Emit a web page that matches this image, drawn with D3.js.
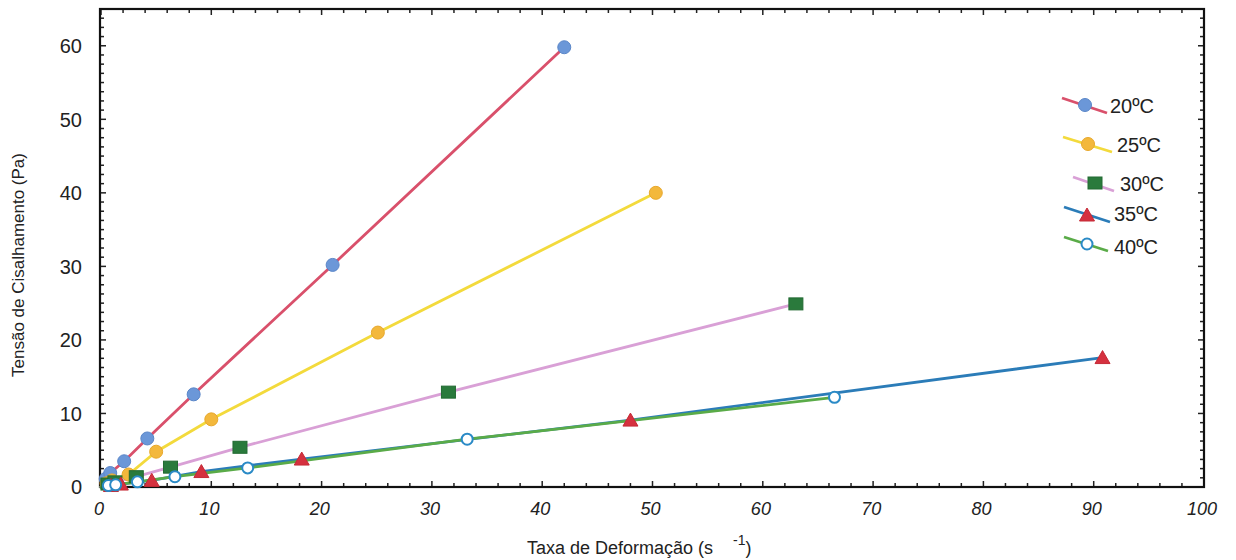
<!DOCTYPE html>
<html>
<head>
<meta charset="utf-8">
<script src="https://cdn.jsdelivr.net/npm/d3@7"></script>
<style>
  html, body { margin: 0; padding: 0; background: #fff; }
  svg { display: block; font-family: "Liberation Sans", Arial, sans-serif; }
</style>
</head>
<body>
<svg id="chart" width="1236" height="560"></svg>
<script>
// Shear rate (s^-1) and shear stress (Pa) for each temperature
const seriesNames = ["20ºC", "25ºC", "30ºC", "35ºC", "40ºC"];
const rate20 = [0.42, 0.84, 2.1, 4.2, 8.4, 21.0, 42.0];
const stress20 = [1.1, 1.9, 3.5, 6.6, 12.6, 30.2, 59.8];
const rate25 = [0.5, 1.0, 2.5, 5.0, 10.0, 25.1, 50.3];
const stress25 = [0.5, 0.9, 1.7, 4.8, 9.2, 21.0, 40.0];
const rate30 = [0.63, 1.26, 3.2, 6.3, 12.6, 31.5, 63.0];
const stress30 = [0.4, 0.7, 1.4, 2.7, 5.4, 12.9, 24.9];
const rate35 = [0.9, 1.8, 4.6, 9.1, 18.2, 48.0, 90.8];
const stress35 = [0.2, 0.4, 0.9, 2.1, 3.8, 9.1, 17.6];
const rate40 = [0.67, 1.33, 3.3, 6.7, 13.3, 33.2, 66.5];
const stress40 = [0.2, 0.3, 0.7, 1.4, 2.6, 6.5, 12.2];

const xTicks = [0, 10, 20, 30, 40, 50, 60, 70, 80, 90, 100];
const yTicks = [0, 10, 20, 30, 40, 50, 60];

const svg = d3.select("#chart");
const frameL = 100, frameR = 1204, frameT = 9, frameB = 487;

const x = d3.scaleLinear().domain([0, 100]).range([frameL + 1, frameR]);
const y = d3.scaleLinear().domain([0, 65]).range([frameB, frameT]);

// series styling
const styles = [
  { line: "#d9506b", fill: "#6b97d8", stroke: "#5a86c8", shape: "circle" },
  { line: "#f3da3c", fill: "#f3b83c", stroke: "#e8a82c", shape: "circle" },
  { line: "#d9a0d6", fill: "#2a7a3c", stroke: "#226a32", shape: "square" },
  { line: "#2b7cb8", fill: "#d5313f", stroke: "#c52a36", shape: "triangle" },
  { line: "#5aab48", fill: "#ffffff", stroke: "#2a8ac6", shape: "open" }
];

const series = [
  { rate: rate20, stress: stress20 },
  { rate: rate25, stress: stress25 },
  { rate: rate30, stress: stress30 },
  { rate: rate35, stress: stress35 },
  { rate: rate40, stress: stress40 }
].map((s, i) => ({ name: seriesNames[i], style: styles[i],
  points: s.rate.map((r, j) => ({ x: r, y: s.stress[j] })) }));

// minor / major ticks, pointing inward on all four sides
const ticksG = svg.append("g").attr("stroke", "#222").attr("stroke-width", 1.5);
d3.range(0, 100.01, 2).forEach(v => {
  const len = v % 10 === 0 ? 6 : 4;
  ticksG.append("line").attr("x1", x(v)).attr("x2", x(v)).attr("y1", frameB).attr("y2", frameB - len);
  ticksG.append("line").attr("x1", x(v)).attr("x2", x(v)).attr("y1", frameT).attr("y2", frameT + len);
});
d3.range(0, 65.01, 1.25).forEach(v => {
  const len = v % 10 === 0 ? 6 : 4;
  ticksG.append("line").attr("x1", frameL).attr("x2", frameL + len).attr("y1", y(v)).attr("y2", y(v));
  ticksG.append("line").attr("x1", frameR).attr("x2", frameR - len).attr("y1", y(v)).attr("y2", y(v));
});

// frame
svg.append("rect").attr("x", frameL).attr("y", frameT).attr("width", frameR - frameL).attr("height", frameB - frameT)
  .attr("fill", "none").attr("stroke", "#111").attr("stroke-width", 2.2);

// tick labels
svg.append("g").selectAll("text").data(yTicks).join("text")
  .attr("x", 82).attr("y", d => y(d)).attr("dy", "0.36em")
  .attr("text-anchor", "end").attr("font-size", 20).attr("fill", "#222")
  .text(d => d);
svg.append("g").selectAll("text").data(xTicks).join("text")
  .attr("x", d => x(d) - 2).attr("y", 515)
  .attr("text-anchor", "middle").attr("font-size", 19).attr("font-style", "italic")
  .attr("fill", "#222").attr("transform", d => `translate(${x(d)},0) scale(0.95,1) translate(${-x(d)},0)`)
  .text(d => d);

// axis titles
svg.append("text")
  .attr("transform", "translate(24,265) rotate(-90)")
  .attr("text-anchor", "middle").attr("font-size", 17).attr("fill", "#222")
  .text("Tensão de Cisalhamento (Pa)");
const xt = svg.append("text").attr("x", 527).attr("y", 554)
  .attr("font-size", 18).attr("fill", "#222");
xt.append("tspan").text("Taxa de Deformação (s");
xt.append("tspan").attr("dx", 20).attr("dy", -9).attr("font-size", 14).text("-1");
xt.append("tspan").attr("dy", 9).text(")");

// markers
function drawMarker(g, shape, st, cx, cy) {
  if (shape === "circle") {
    g.append("circle").attr("cx", cx).attr("cy", cy).attr("r", 6.5)
      .attr("fill", st.fill).attr("stroke", st.stroke).attr("stroke-width", 1);
  } else if (shape === "square") {
    g.append("rect").attr("x", cx - 7).attr("y", cy - 6).attr("width", 14).attr("height", 12)
      .attr("fill", st.fill).attr("stroke", st.stroke).attr("stroke-width", 1);
  } else if (shape === "triangle") {
    g.append("path").attr("d", `M${cx},${cy - 7}L${cx + 7.5},${cy + 6}L${cx - 7.5},${cy + 6}Z`)
      .attr("fill", st.fill).attr("stroke", st.stroke).attr("stroke-width", 1);
  } else {
    g.append("circle").attr("cx", cx).attr("cy", cy).attr("r", 5.5)
      .attr("fill", "#fff").attr("stroke", st.stroke).attr("stroke-width", 2);
  }
}

const line = d3.line().x(d => x(d.x)).y(d => y(d.y));
const plot = svg.append("g");
// lines first, then markers on top
series.forEach(s => {
  plot.append("path").datum([{ x: 0, y: 0 }].concat(s.points)).attr("d", line)
    .attr("fill", "none").attr("stroke", s.style.line).attr("stroke-width", 2.8)
    .attr("stroke-linecap", "round");
});
series.forEach(s => {
  const g = plot.append("g");
  s.points.forEach(p => drawMarker(g, s.style.shape, s.style, x(p.x), y(p.y)));
});

// legend
const legendRows = [
  { x1: 1062, y1: 98, x2: 1107, y2: 113, mx: 1085, my: 105, tx: 1110, ty: 106 },
  { x1: 1063, y1: 137, x2: 1112, y2: 152, mx: 1088, my: 144, tx: 1117, ty: 145 },
  { x1: 1073, y1: 177, x2: 1114, y2: 191, mx: 1095, my: 183, tx: 1120, ty: 184 },
  { x1: 1064, y1: 207, x2: 1110, y2: 222, mx: 1087, my: 215, tx: 1114, ty: 214 },
  { x1: 1064, y1: 237, x2: 1108, y2: 251, mx: 1087, my: 244, tx: 1114, ty: 247 }
];
const lg = svg.append("g");
series.forEach((s, i) => {
  const r = legendRows[i];
  lg.append("line").attr("x1", r.x1).attr("y1", r.y1).attr("x2", r.x2).attr("y2", r.y2)
    .attr("stroke", s.style.line).attr("stroke-width", 2.8);
  drawMarker(lg, s.style.shape, s.style, r.mx, r.my);
  lg.append("text").attr("x", r.tx).attr("y", r.ty).attr("dy", "0.36em")
    .attr("font-size", 20).attr("fill", "#222").text(s.name);
});
</script>
</body>
</html>
